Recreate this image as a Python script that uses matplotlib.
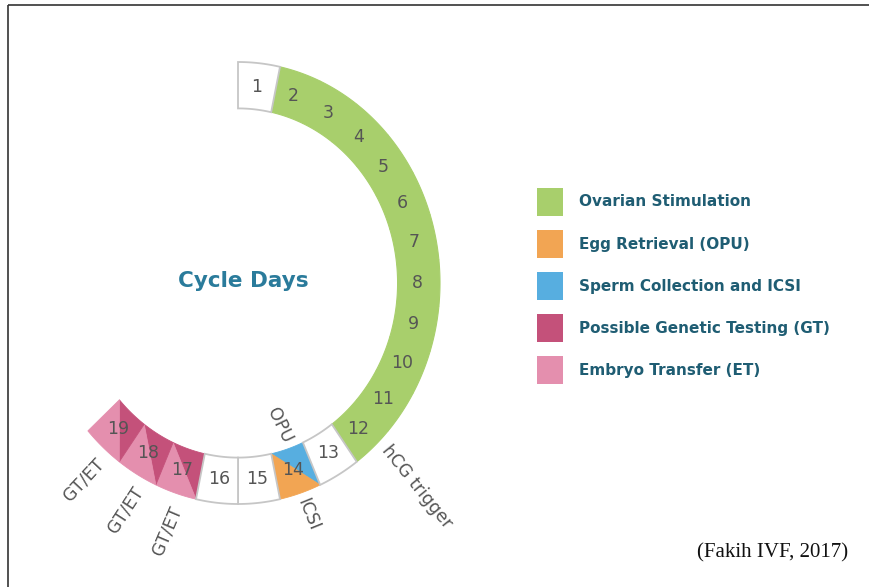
import numpy as np
import matplotlib.pyplot as plt
from matplotlib.patches import Polygon, Rectangle

# cycle days and what happens on each one
days = list(range(1, 20))
phase = ["none", "stim", "stim", "stim", "stim", "stim", "stim", "stim", "stim",
         "stim", "stim", "stim", "none", "opu_icsi", "none", "none",
         "gt_et", "gt_et", "gt_et"]

legend_labels = ["Ovarian Stimulation", "Egg Retrieval (OPU)", "Sperm Collection and ICSI",
                 "Possible Genetic Testing (GT)", "Embryo Transfer (ET)"]
legend_colors = ["#a8cf6c", "#f2a553", "#57aee0", "#c4517a", "#e48fae"]

# event labels: (text, day, angle offset in deg, radius of anchor, rotation, side)
events = [
    ("hCG trigger", 12, 2.5, 1.04, -51, "out"),
    ("ICSI", 14, 0.0, 1.03, -68, "out"),
    ("OPU", 14, 1.0, 0.76, -64, "in"),
    ("GT/ET", 17, 1.5, 1.06, 67, "in"),
    ("GT/ET", 18, 2.3, 1.05, 57, "in"),
    ("GT/ET", 19, 2.0, 1.05, 47, "in"),
]

GREEN, ORANGE, BLUE, DPINK, LPINK = legend_colors
EDGE = "#c6c6c6"
NUM = "#555555"
TEAL = "#2a7b9b"

cx, cy = 238, 283
rx, ry = 202, 221
r_in, r_out = 0.79, 1.0
step = 12  # degrees per day
start = 90  # start of day 1


def pt(theta, r):
    t = np.radians(theta)
    return cx + r * rx * np.cos(t), cy - r * ry * np.sin(t)


def arc(t0, t1, r, n=20):
    return [pt(t, r) for t in np.linspace(t0, t1, n)]


def day_angle(d):
    return start - (d - 0.5) * step


fig = plt.figure(figsize=(8.7, 5.87), dpi=100)
ax = fig.add_axes([0, 0, 1, 1])
ax.set_xlim(0, 870)
ax.set_ylim(587, 0)
ax.axis("off")

for d, ph in zip(days, phase):
    tc = day_angle(d)
    ts, te = tc + step / 2, tc - step / 2
    full = arc(ts, te, r_out) + arc(te, ts, r_in)
    if ph == "none":
        ax.add_patch(Polygon(full, closed=True, facecolor="white", edgecolor=EDGE, lw=1.3, zorder=3))
    elif ph == "stim":
        ax.add_patch(Polygon(full, closed=True, facecolor=GREEN, edgecolor=GREEN, lw=0.8, zorder=2))
    else:
        c1, c2 = (BLUE, ORANGE) if ph == "opu_icsi" else (DPINK, LPINK)
        p1 = arc(te, ts, r_in) + [pt(ts, r_out)]
        p2 = arc(ts, te, r_out) + [pt(te, r_in)]
        ax.add_patch(Polygon(p1, closed=True, facecolor=c1, edgecolor=c1, lw=0.6, zorder=2))
        ax.add_patch(Polygon(p2, closed=True, facecolor=c2, edgecolor=c2, lw=0.6, zorder=2))
    x, y = pt(tc, 0.89)
    ax.text(x, y, str(d), ha="center", va="center", fontsize=12.5, color=NUM, zorder=5)

for txt, d, off, r, rot, side in events:
    x, y = pt(day_angle(d) + off, r)
    ha = "left" if side == "out" else "right"
    ax.text(x, y, txt, ha=ha, va="center", rotation=rot, rotation_mode="anchor",
            fontsize=12.5, color=NUM, zorder=5)

ax.text(243, 281, "Cycle Days", ha="center", va="center", fontsize=15.5,
        fontweight="bold", color=TEAL)

# legend
for i, (lab, col) in enumerate(zip(legend_labels, legend_colors)):
    yc = 202 + i * 42
    ax.add_patch(Rectangle((537, yc - 14), 26, 28, facecolor=col, edgecolor="none"))
    ax.text(579, yc, lab, ha="left", va="center", fontsize=11, fontweight="bold", color="#1f5d73")

ax.text(848, 553, "(Fakih IVF, 2017)", ha="right", va="center", fontsize=15,
        family="Liberation Serif", color="#111111")

# frame of the original picture (top and left only)
ax.plot([8, 870], [5, 5], color="#333333", lw=1.2, solid_capstyle="butt")
ax.plot([8, 8], [5, 587], color="#333333", lw=1.2, solid_capstyle="butt")

fig.savefig("out.png", dpi=100)
